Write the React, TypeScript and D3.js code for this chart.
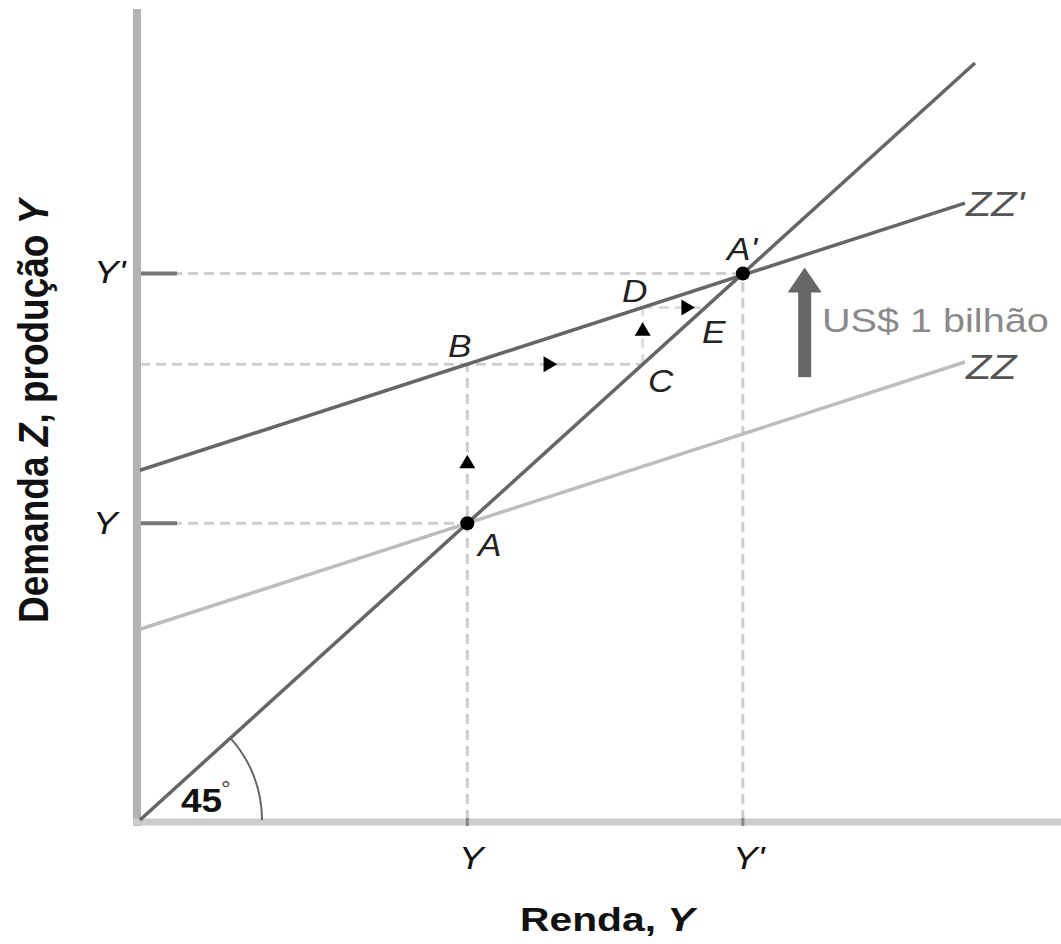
import React from "react";
import * as d3 from "d3";

// ---- data (model units: income Y on x, demand/production on y) ----
const line45: [number, number][] = [[0, 0], [100, 100]];
const zzLine: [number, number][] = [[0, 25.2], [98.8, 60.5]];
const zzPrimeLine: [number, number][] = [[0, 46.2], [98.8, 81.5]];

const eqY = 39.2;      // A
const eqYPrime = 72.2; // A'
const levelB = 60.2;   // B / C level
const levelD = 67.7;   // D / E level

const eqPoints: [number, number][] = [[eqY, eqY], [eqYPrime, eqYPrime]];

// dashed guide segments [x1,y1,x2,y2]
const guides: [number, number, number, number][] = [
  [0, eqY, eqY, eqY],
  [eqY, 0, eqY, levelB],
  [0, levelB, levelB, levelB],
  [0, eqYPrime, eqYPrime, eqYPrime],
  [eqYPrime, 0, eqYPrime, eqYPrime],
  [levelB, levelB, levelB, levelD],
  [levelB, levelD, levelD, levelD],
];

// small direction triangles [x, y, direction]
const triangles: [number, number, string][] = [
  [eqY, 47.3, "up"],
  [49.1, levelB, "right"],
  [levelB, 64.8, "up"],
  [65.6, levelD, "right"],
];

const axisTicksY = [eqY, eqYPrime];
const axisTickLabelsY = ["Y", "Y'"];

const pointLabels: [string, number, number][] = [
  ["A", 478, 556],
  ["B", 448, 357],
  ["A'", 727, 260],
  ["D", 622, 302],
  ["E", 702, 343],
  ["C", 648, 392],
];

const bigArrow = { at: 79.6, from: 58.5, to: 73.0 };

const W = 1061;
const H = 944;
const FONT = "'Liberation Sans', Arial, sans-serif";

const x = d3.scaleLinear().domain([0, 100]).range([140, 975]);
const y = d3.scaleLinear().domain([0, 100]).range([820, 63]);
const line = d3
  .line<[number, number]>()
  .x((d) => x(d[0]))
  .y((d) => y(d[1]));

function Label(props: {
  x: number;
  y: number;
  text: React.ReactNode;
  size: number;
  sx?: number;
  italic?: boolean;
  bold?: boolean;
  fill?: string;
  anchor?: string;
}) {
  const { sx = 1.2 } = props;
  return (
    <g transform={`translate(${props.x},${props.y}) scale(${sx},1)`}>
      <text
        x={0}
        y={0}
        fontFamily={FONT}
        fontSize={props.size}
        fontStyle={props.italic ? "italic" : "normal"}
        fontWeight={props.bold ? "bold" : "normal"}
        fill={props.fill || "#111"}
        textAnchor={props.anchor || "start"}
      >
        {props.text}
      </text>
    </g>
  );
}

function tri(cx: number, cy: number, dir: string) {
  const s = 8;
  if (dir === "up") {
    return `M${cx - s},${cy + s * 0.8} L${cx + s},${cy + s * 0.8} L${cx},${cy - s * 0.9} Z`;
  }
  return `M${cx - s * 0.8},${cy - s} L${cx - s * 0.8},${cy + s} L${cx + s * 0.9},${cy} Z`;
}

export default function App() {
  const ox = x(0);
  const oy = y(0);
  const ang = Math.atan2(oy - y(100), x(100) - ox);
  const r = 122;
  const arc = `M${ox + r},${oy} A${r},${r} 0 0 0 ${ox + r * Math.cos(ang)},${oy - r * Math.sin(ang)}`;

  const ax = x(bigArrow.at);
  const aTop = y(bigArrow.to);
  const aBot = y(bigArrow.from);

  return (
    <div style={{ position: "absolute", left: 0, top: 0, width: W, height: H, background: "#fff" }}>
      <svg width={W} height={H} viewBox={`0 0 ${W} ${H}`} style={{ display: "block" }}>
        <rect x={0} y={0} width={W} height={H} fill="#fff" />

        {/* dashed guides */}
        {guides.map((g, i) => (
          <line
            key={"g" + i}
            x1={x(g[0])}
            y1={y(g[1])}
            x2={x(g[2])}
            y2={y(g[3])}
            stroke={i >= 5 ? "#dcdcdc" : "#cdcdcd"}
            strokeWidth={3}
            strokeDasharray="10 6"
          />
        ))}

        {/* axes */}
        <line x1={137} y1={9} x2={137} y2={826} stroke="#b3b3b3" strokeWidth={8} />
        <line x1={133} y1={822} x2={W} y2={822} stroke="#cccccc" strokeWidth={7} />

        {/* y-axis ticks */}
        {axisTicksY.map((v, i) => (
          <line key={"t" + i} x1={141} y1={y(v)} x2={177} y2={y(v)} stroke="#777" strokeWidth={4} />
        ))}
        {axisTicksY.map((v, i) => (
          <line key={"tx" + i} x1={x(v)} y1={818} x2={x(v)} y2={826} stroke="#888" strokeWidth={3} />
        ))}

        {/* curves */}
        <path d={line(zzLine) || ""} fill="none" stroke="#bdbdbd" strokeWidth={3.5} />
        <path d={line(line45) || ""} fill="none" stroke="#666" strokeWidth={3.5} />
        <path d={line(zzPrimeLine) || ""} fill="none" stroke="#666" strokeWidth={3.5} />

        {/* 45 degree arc */}
        <path d={arc} fill="none" stroke="#666" strokeWidth={2} />
        <Label x={181} y={812} text="45" size={33} bold sx={1.12} />
        <Label x={221} y={797} text="°" size={22} sx={1.1} fill="#444" />

        {/* equilibrium points */}
        {eqPoints.map((p, i) => (
          <circle key={"p" + i} cx={x(p[0])} cy={y(p[1])} r={7} fill="#000" />
        ))}

        {/* direction triangles */}
        {triangles.map((t, i) => (
          <path key={"tr" + i} d={tri(x(t[0]), y(t[1]), t[2])} fill="#000" />
        ))}

        {/* big arrow */}
        <rect x={ax - 6.5} y={aTop + 22} width={13} height={aBot - aTop - 22} fill="#666" />
        <path d={`M${ax - 17},${aTop + 25} L${ax + 17},${aTop + 25} L${ax},${aTop} Z`} fill="#666" />
        <Label x={822} y={332} text="US$ 1 bilhão" size={33} sx={1.2} fill="#8a8a8a" />

        {/* curve labels */}
        <Label x={966} y={216} text="ZZ'" size={36} italic sx={1.15} fill="#555" />
        <Label x={966} y={379} text="ZZ" size={36} italic sx={1.15} fill="#555" />

        {/* point labels */}
        {pointLabels.map((l, i) => (
          <Label key={"l" + i} x={l[1]} y={l[2]} text={l[0]} size={32} italic sx={1.1} fill="#222" />
        ))}

        {/* axis tick labels */}
        <Label x={94} y={283} text={axisTickLabelsY[1]} size={32} italic sx={1.15} />
        <Label x={93} y={534} text={axisTickLabelsY[0]} size={32} italic sx={1.15} />
        <Label x={459} y={869} text={axisTickLabelsY[0]} size={32} italic sx={1.15} />
        <Label x={733} y={869} text={axisTickLabelsY[1]} size={32} italic sx={1.15} />

        {/* axis titles */}
        <Label
          x={520}
          y={931}
          size={34}
          bold
          sx={1.2}
          text={
            <>
              Renda, <tspan fontStyle="italic">Y</tspan>
            </>
          }
        />
        <g transform="translate(48,623) rotate(-90) scale(1,1.15)">
          <text x={0} y={0} fontFamily={FONT} fontSize={37} fontWeight="bold" fill="#111">
            Demanda <tspan fontStyle="italic">Z</tspan>, produção <tspan fontStyle="italic">Y</tspan>
          </text>
        </g>
      </svg>
    </div>
  );
}
